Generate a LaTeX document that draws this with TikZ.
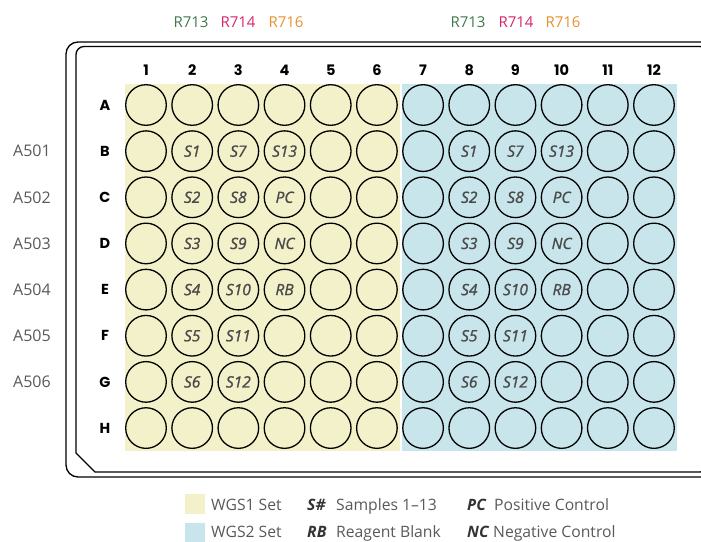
\documentclass[tikz,border=0pt]{standalone}
\usepackage{fontspec}
\setmainfont{Open Sans}
\newfontfamily\hdrfont{Poppins}
\newfontfamily\wellfont{Open Sans}[ItalicFeatures={FakeBold=1.2}]
\definecolor{wgsone}{HTML}{F2F1C9}
\definecolor{wgstwo}{HTML}{C8E5EC}
\definecolor{rgreen}{HTML}{3E7A4C}
\definecolor{rpink}{HTML}{D9246D}
\definecolor{rorange}{HTML}{E8912E}
\definecolor{txtgray}{HTML}{595959}
\definecolor{welltxt}{HTML}{4A4A4A}
\tikzset{
  well/.style={circle,draw=black,line width=1.3pt,minimum size=40.6pt,inner sep=0pt},
  welllbl/.style={font=\wellfont\fontsize{15.5}{16}\selectfont\itshape,text=welltxt},
  colhdr/.style={font=\hdrfont\fontsize{14.5}{16}\selectfont\bfseries,text=black},
  rowhdr/.style={font=\hdrfont\fontsize{14.5}{16}\selectfont\bfseries,text=black},
  sidelbl/.style={font=\fontsize{16}{18}\selectfont,text=txtgray},
  toplbl/.style={font=\fontsize{15}{17}\selectfont},
  legtxt/.style={font=\fontsize{15.7}{17}\selectfont,text=txtgray,anchor=base west,inner sep=0pt},
  legkey/.style={font=\fontsize{15.7}{17}\selectfont\bfseries\itshape,text=black!80,anchor=base west,inner sep=0pt},
  platebd/.style={draw=black,line width=1.3pt}
}
\begin{document}
\begin{tikzpicture}[x=1pt,y=-1pt]
\useasboundingbox (0,0) rectangle (701,541);
\clip (0,0) rectangle (701,541);
% plate
\draw[platebd,rounded corners=12pt] (66,300) -- (66,42) -- (714,42) -- (714,477) -- (66,477) -- cycle;
\draw[platebd] (95,472) -- (76,453) [rounded corners=8pt] -- (76,46.5) -- (708,46.5) -- (708,472) [sharp corners] -- cycle;
% backgrounds
\fill[wgsone] (125,84) rectangle (400,451);
\fill[wgstwo] (402,84) rectangle (677,451);
% column headers
\foreach \j in {1,...,12} {
  \node[colhdr] (c\j) at ({146+46.18*(\j-1)},70) {\j};
}
% row headers
\foreach \r [count=\i] in {A,B,C,D,E,F,G,H} {
  \node[rowhdr] (r\r) at (105,{105+46.15*(\i-1)}) {\r};
}
% wells
\foreach \i in {1,...,8} {
  \foreach \j in {1,...,12} {
    \node[well] (w-\i-\j) at ({146+46.18*(\j-1)},{105+46.15*(\i-1)}) {};
  }
}
% well labels
\foreach \c in {2,8} {
  \pgfmathtruncatemacro{\cc}{\c+1}
  \pgfmathtruncatemacro{\ccc}{\c+2}
  \node[welllbl] at (w-2-\c) {S1};
  \node[welllbl] at (w-3-\c) {S2};
  \node[welllbl] at (w-4-\c) {S3};
  \node[welllbl] at (w-5-\c) {S4};
  \node[welllbl] at (w-6-\c) {S5};
  \node[welllbl] at (w-7-\c) {S6};
  \node[welllbl] at (w-2-\cc) {S7};
  \node[welllbl] at (w-3-\cc) {S8};
  \node[welllbl] at (w-4-\cc) {S9};
  \node[welllbl] at (w-5-\cc) {S10};
  \node[welllbl] at (w-6-\cc) {S11};
  \node[welllbl] at (w-7-\cc) {S12};
  \node[welllbl] at (w-2-\ccc) {S13};
  \node[welllbl] at (w-3-\ccc) {PC};
  \node[welllbl] at (w-4-\ccc) {NC};
  \node[welllbl] at (w-5-\ccc) {RB};
}
% top labels
\node[toplbl,text=rgreen] (t1) at (191,22) {R713};
\node[toplbl,text=rpink] (t2) at (238,22) {R714};
\node[toplbl,text=rorange] (t3) at (286,22) {R716};
\node[toplbl,text=rgreen] (t4) at (468,22) {R713};
\node[toplbl,text=rpink] (t5) at (516,22) {R714};
\node[toplbl,text=rorange] (t6) at (563,22) {R716};
% side labels
\foreach \k [count=\i from 2] in {1,...,6} {
  \node[sidelbl] (s\k) at (32,{105+46.15*(\i-1)}) {A50\k};
}
% legend
\fill[wgsone] (185,494) rectangle (205,514);
\fill[wgstwo] (185,523) rectangle (205,543);
\node[legtxt] (l1) at (211,510) {WGS1 Set};
\node[legtxt] (l2) at (211,537.5) {WGS2 Set};
\node[legkey] (k1) at (307,510) {S\#};
\node[legtxt] (l3) at (336,510) {Samples 1–13};
\node[legkey] (k2) at (307,537.5) {RB};
\node[legtxt] (l4) at (336,537.5) {Reagent Blank};
\node[legkey] (k3) at (467,510) {PC};
\node[legtxt] (l5) at (494,510) {Positive Control};
\node[legkey] (k4) at (467,537.5) {NC};
\node[legtxt] (l6) at (493,537.5) {Negative Control};
\end{tikzpicture}
\end{document}
